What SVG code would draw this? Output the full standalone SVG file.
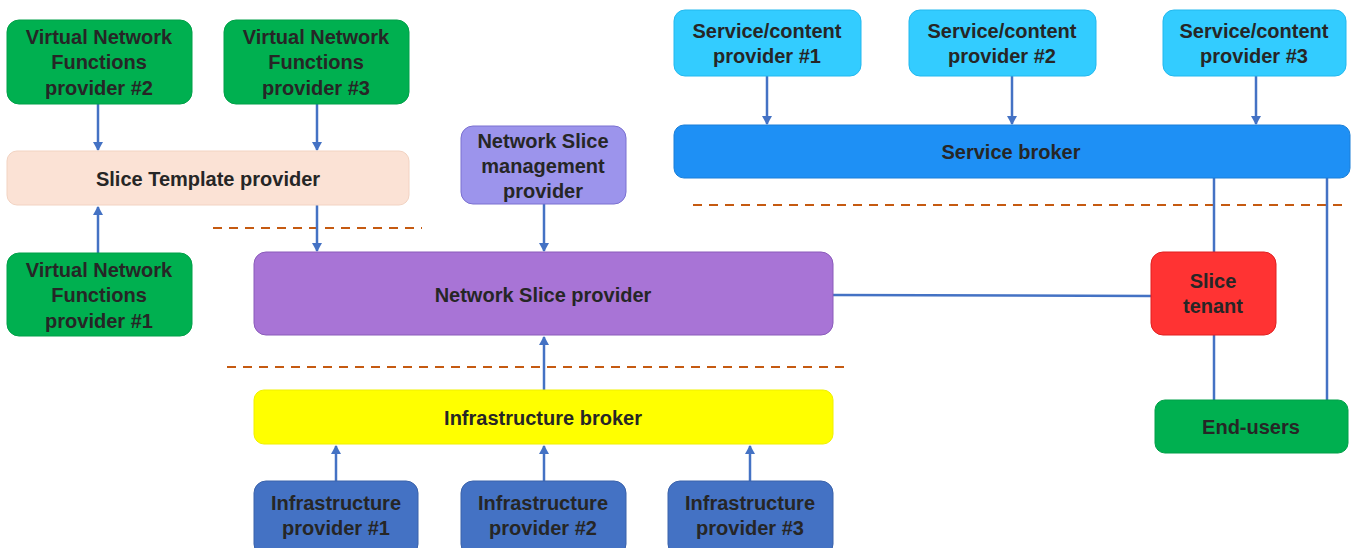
<svg xmlns="http://www.w3.org/2000/svg" width="1351" height="548" viewBox="0 0 1351 548">
<style>
text{font-family:"Liberation Sans",Arial,sans-serif;font-weight:bold;font-size:20px;fill:#262626;text-anchor:middle}
.c{stroke:#4472C4;stroke-width:2.5;fill:none}
.d{stroke:#C55A11;stroke-width:2;stroke-dasharray:9,7;fill:none}
rect{stroke-width:1}
</style>
<defs>
<marker id="a" markerWidth="10" markerHeight="10" refX="8" refY="5" orient="auto" markerUnits="userSpaceOnUse">
<path d="M0,0 L9,5 L0,10 Z" fill="#4472C4"/>
</marker>
</defs>
<rect width="1351" height="548" fill="#fff"/>
<g id="dashes">
<line class="d" x1="213" y1="228" x2="422" y2="228"/>
<line class="d" x1="227" y1="367" x2="850" y2="367"/>
<line class="d" x1="693" y1="205" x2="1342" y2="205"/>
</g>
<g id="connectors">
<line class="c" x1="98" y1="104" x2="98" y2="150" marker-end="url(#a)"/>
<line class="c" x1="317" y1="104" x2="317" y2="150" marker-end="url(#a)"/>
<line class="c" x1="98" y1="253" x2="98" y2="207" marker-end="url(#a)"/>
<line class="c" x1="317" y1="205" x2="317" y2="251" marker-end="url(#a)"/>
<line class="c" x1="544" y1="204" x2="544" y2="251" marker-end="url(#a)"/>
<line class="c" x1="544" y1="390" x2="544" y2="337" marker-end="url(#a)"/>
<line class="c" x1="336" y1="481" x2="336" y2="446" marker-end="url(#a)"/>
<line class="c" x1="544" y1="481" x2="544" y2="446" marker-end="url(#a)"/>
<line class="c" x1="750" y1="481" x2="750" y2="446" marker-end="url(#a)"/>
<line class="c" x1="767" y1="76" x2="767" y2="124" marker-end="url(#a)"/>
<line class="c" x1="1012" y1="76" x2="1012" y2="124" marker-end="url(#a)"/>
<line class="c" x1="1256" y1="76" x2="1256" y2="124" marker-end="url(#a)"/>
<line class="c" x1="1214" y1="178" x2="1214" y2="252"/>
<line class="c" x1="1214" y1="335" x2="1214" y2="400"/>
<line class="c" x1="1327" y1="178" x2="1327" y2="400"/>
<line class="c" x1="833" y1="295" x2="1151" y2="296"/>
</g>
<g id="vnf2"><rect x="7" y="20" width="185" height="84" rx="12" fill="#00B050" stroke="#00A048"/><text x="99" y="44">Virtual Network</text><text x="99" y="69">Functions</text><text x="99" y="95">provider #2</text></g>
<g id="vnf3"><rect x="224" y="20" width="185" height="84" rx="12" fill="#00B050" stroke="#00A048"/><text x="316" y="44">Virtual Network</text><text x="316" y="69">Functions</text><text x="316" y="95">provider #3</text></g>
<g id="slice-template"><rect x="7" y="151" width="402" height="54" rx="10" fill="#FBE2D5" stroke="#F2D3C2"/><text x="208" y="186">Slice Template provider</text></g>
<g id="vnf1"><rect x="7" y="253" width="185" height="83" rx="12" fill="#00B050" stroke="#00A048"/><text x="99" y="277">Virtual Network</text><text x="99" y="302">Functions</text><text x="99" y="328">provider #1</text></g>
<g id="ns-mgmt"><rect x="461" y="126" width="165" height="78" rx="12" fill="#9C94EC" stroke="#7A70D0"/><text x="543" y="148">Network Slice</text><text x="543" y="173">management</text><text x="543" y="198">provider</text></g>
<g id="ns-provider"><rect x="254" y="252" width="579" height="83" rx="12" fill="#A874D6" stroke="#8A5BBA"/><text x="543" y="302">Network Slice provider</text></g>
<g id="infra-broker"><rect x="254" y="390" width="579" height="54" rx="10" fill="#FFFF00" stroke="#F0F000"/><text x="543" y="425">Infrastructure broker</text></g>
<g id="infra1"><rect x="254" y="481" width="164" height="75" rx="12" fill="#4472C4" stroke="#3A62AA"/><text x="336" y="510">Infrastructure</text><text x="336" y="535">provider #1</text></g>
<g id="infra2"><rect x="461" y="481" width="165" height="75" rx="12" fill="#4472C4" stroke="#3A62AA"/><text x="543" y="510">Infrastructure</text><text x="543" y="535">provider #2</text></g>
<g id="infra3"><rect x="668" y="481" width="165" height="75" rx="12" fill="#4472C4" stroke="#3A62AA"/><text x="750" y="510">Infrastructure</text><text x="750" y="535">provider #3</text></g>
<g id="sc1"><rect x="674" y="10" width="187" height="66" rx="11" fill="#33CCFF" stroke="#22B8EE"/><text x="767" y="38">Service/content</text><text x="767" y="63">provider #1</text></g>
<g id="sc2"><rect x="909" y="10" width="187" height="66" rx="11" fill="#33CCFF" stroke="#22B8EE"/><text x="1002" y="38">Service/content</text><text x="1002" y="63">provider #2</text></g>
<g id="sc3"><rect x="1163" y="10" width="183" height="66" rx="11" fill="#33CCFF" stroke="#22B8EE"/><text x="1254" y="38">Service/content</text><text x="1254" y="63">provider #3</text></g>
<g id="service-broker"><rect x="674" y="125" width="676" height="53" rx="10" fill="#1E90F5" stroke="#1A7FD8"/><text x="1011" y="159">Service broker</text></g>
<g id="slice-tenant"><rect x="1151" y="252" width="125" height="83" rx="12" fill="#FF3333" stroke="#E02020"/><text x="1213" y="288">Slice</text><text x="1213" y="313">tenant</text></g>
<g id="end-users"><rect x="1155" y="400" width="193" height="53" rx="10" fill="#00B050" stroke="#00A048"/><text x="1251" y="434">End-users</text></g>
</svg>
